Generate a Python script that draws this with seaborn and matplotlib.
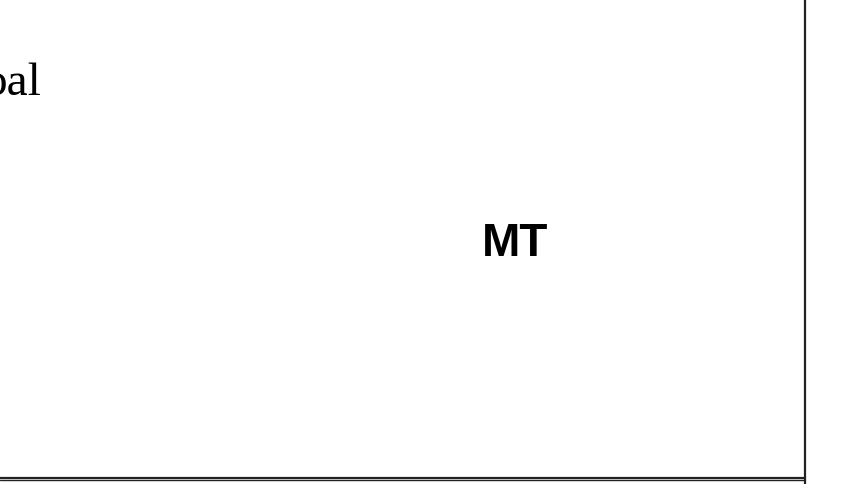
import matplotlib
matplotlib.use("Agg")
import matplotlib.pyplot as plt
import pandas as pd
import seaborn as sns

# labels visible in the cropped map view
LABELS = ["pal", "MT"]
LABEL_X = [41, 482]
LABEL_Y = [95, 256]

# boundary lines (map coordinates, pixel-like units)
BORDER_X = [805, 805]
BORDER_Y = [0, 484]
EDGE_X = [0, 805]
EDGE_Y1 = [477.5, 477.5]
EDGE_Y2 = [480.3, 480.3]

W, H = 857, 484

sns.set_theme(style="white")
fig = plt.figure(figsize=(W / 100, H / 100), dpi=100)
ax = fig.add_axes([0, 0, 1, 1])

borders = pd.DataFrame({"x": BORDER_X, "y": BORDER_Y})
sns.lineplot(data=borders, x="x", y="y", ax=ax, color="#222222", lw=1.6,
             sort=False, estimator=None)
for ys, lw in [(EDGE_Y1, 1.6), (EDGE_Y2, 1.0)]:
    edge = pd.DataFrame({"x": EDGE_X, "y": ys})
    sns.lineplot(data=edge, x="x", y="y", ax=ax, color="#222222", lw=lw,
                 sort=False, estimator=None)
ax.set_xlim(0, W)
ax.set_ylim(H, 0)
ax.axis("off")

ax.text(LABEL_X[0], LABEL_Y[0], LABELS[0], ha="right", va="baseline",
        fontsize=34, family=["Liberation Serif", "DejaVu Serif"], color="black")
ax.text(LABEL_X[1], LABEL_Y[1], LABELS[1], ha="left", va="baseline",
        fontsize=33, fontweight="bold", family=["Liberation Sans", "DejaVu Sans"],
        color="black")

fig.savefig("out.png", dpi=100)
